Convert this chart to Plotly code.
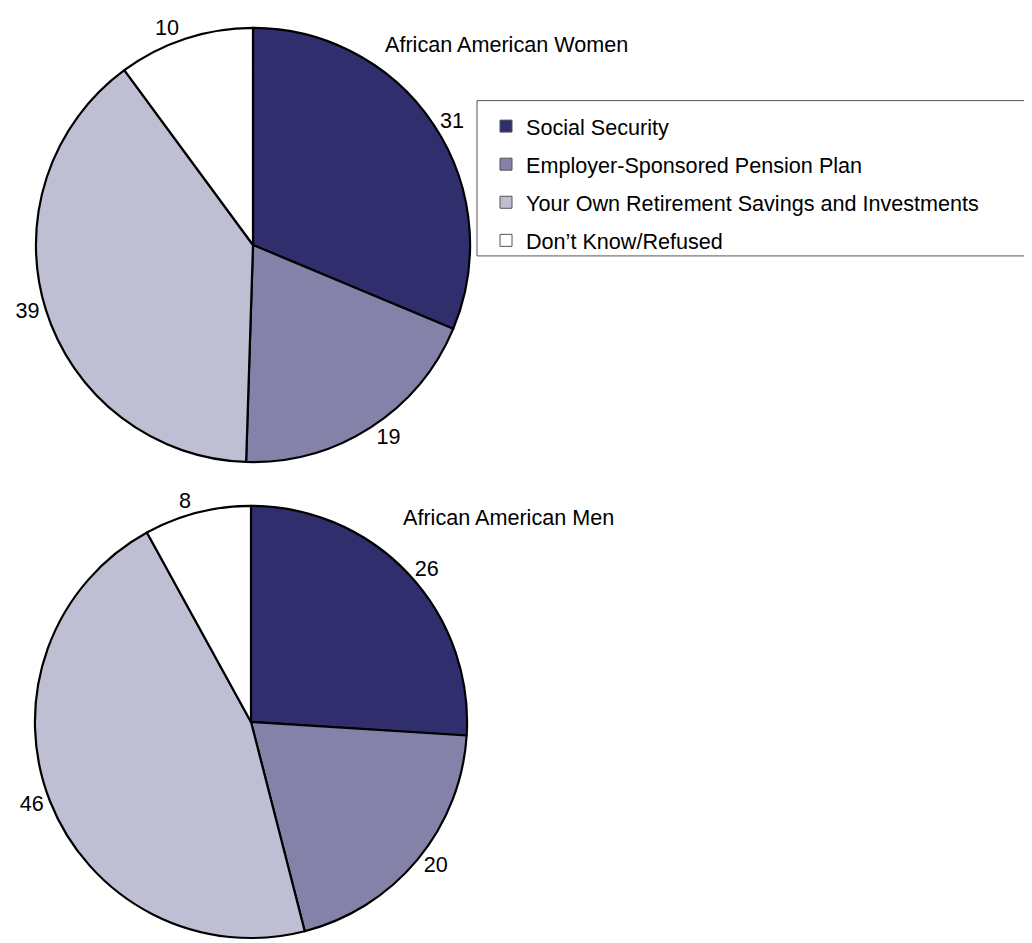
import plotly.graph_objects as go

categories = ["Social Security", "Employer-Sponsored Pension Plan",
              "Your Own Retirement Savings and Investments", "Don\u2019t Know/Refused"]
women_values = [31, 19, 39, 10]
men_values = [26, 20, 46, 8]
colors = ["#312e6e", "#8482a8", "#bfbfd4", "#ffffff"]
titles = ["African American Women", "African American Men"]

# page body has an 8px margin; the figure is sized so it fits the window
OFF = 8
W, H = 1032 - OFF, 943 - OFF
FONT = "Arial, Liberation Sans, sans-serif"
FS = 21.6


def px(x):
    return (x - OFF) / W


def py(y):
    return 1 - (y - OFF) / H


fig = go.Figure()

for vals, dom in [(women_values, dict(x=[px(35), px(471)], y=[py(464), py(28)])),
                  (men_values, dict(x=[px(34), px(468)], y=[py(942), py(508)]))]:
    fig.add_trace(go.Pie(
        labels=categories, values=vals, sort=False, direction="clockwise",
        rotation=0, domain=dom,
        marker=dict(colors=colors, line=dict(color="black", width=2.2)),
        textinfo="value", textposition="outside",
        outsidetextfont=dict(family=FONT, size=FS, color="black"),
        showlegend=False, hoverinfo="label+value",
    ))

# legend entries
for i, (c, col) in enumerate(zip(categories, colors)):
    fig.add_trace(go.Scatter(
        x=[None], y=[None], mode="markers", name=c, legendgroup=f"g{i}",
        marker=dict(symbol="square", size=12, color=col, line=dict(color="#555555", width=1)),
        showlegend=True,
    ))

fig.add_annotation(text=titles[0], x=px(383), y=py(45), xref="paper", yref="paper",
                   xanchor="left", yanchor="middle", showarrow=False,
                   font=dict(family=FONT, size=FS, color="black"))
fig.add_annotation(text=titles[1], x=px(401), y=py(520), xref="paper", yref="paper",
                   xanchor="left", yanchor="middle", showarrow=False,
                   font=dict(family=FONT, size=FS, color="black"))

# legend frame
fig.add_shape(type="rect", xref="paper", yref="paper",
              x0=px(477), x1=px(1027), y0=py(257), y1=py(101),
              line=dict(color="#555555", width=1), fillcolor="rgba(0,0,0,0)", layer="below")

fig.update_layout(
    width=W, height=H, margin=dict(l=0, r=0, t=0, b=0),
    paper_bgcolor="white", plot_bgcolor="white",
    xaxis=dict(visible=False), yaxis=dict(visible=False),
    legend=dict(x=px(486), y=py(106), xanchor="left", yanchor="top",
                font=dict(family=FONT, size=FS, color="black"),
                bgcolor="rgba(0,0,0,0)", borderwidth=0, tracegroupgap=7,
                itemwidth=30),
)

fig.write_html("out.html")
